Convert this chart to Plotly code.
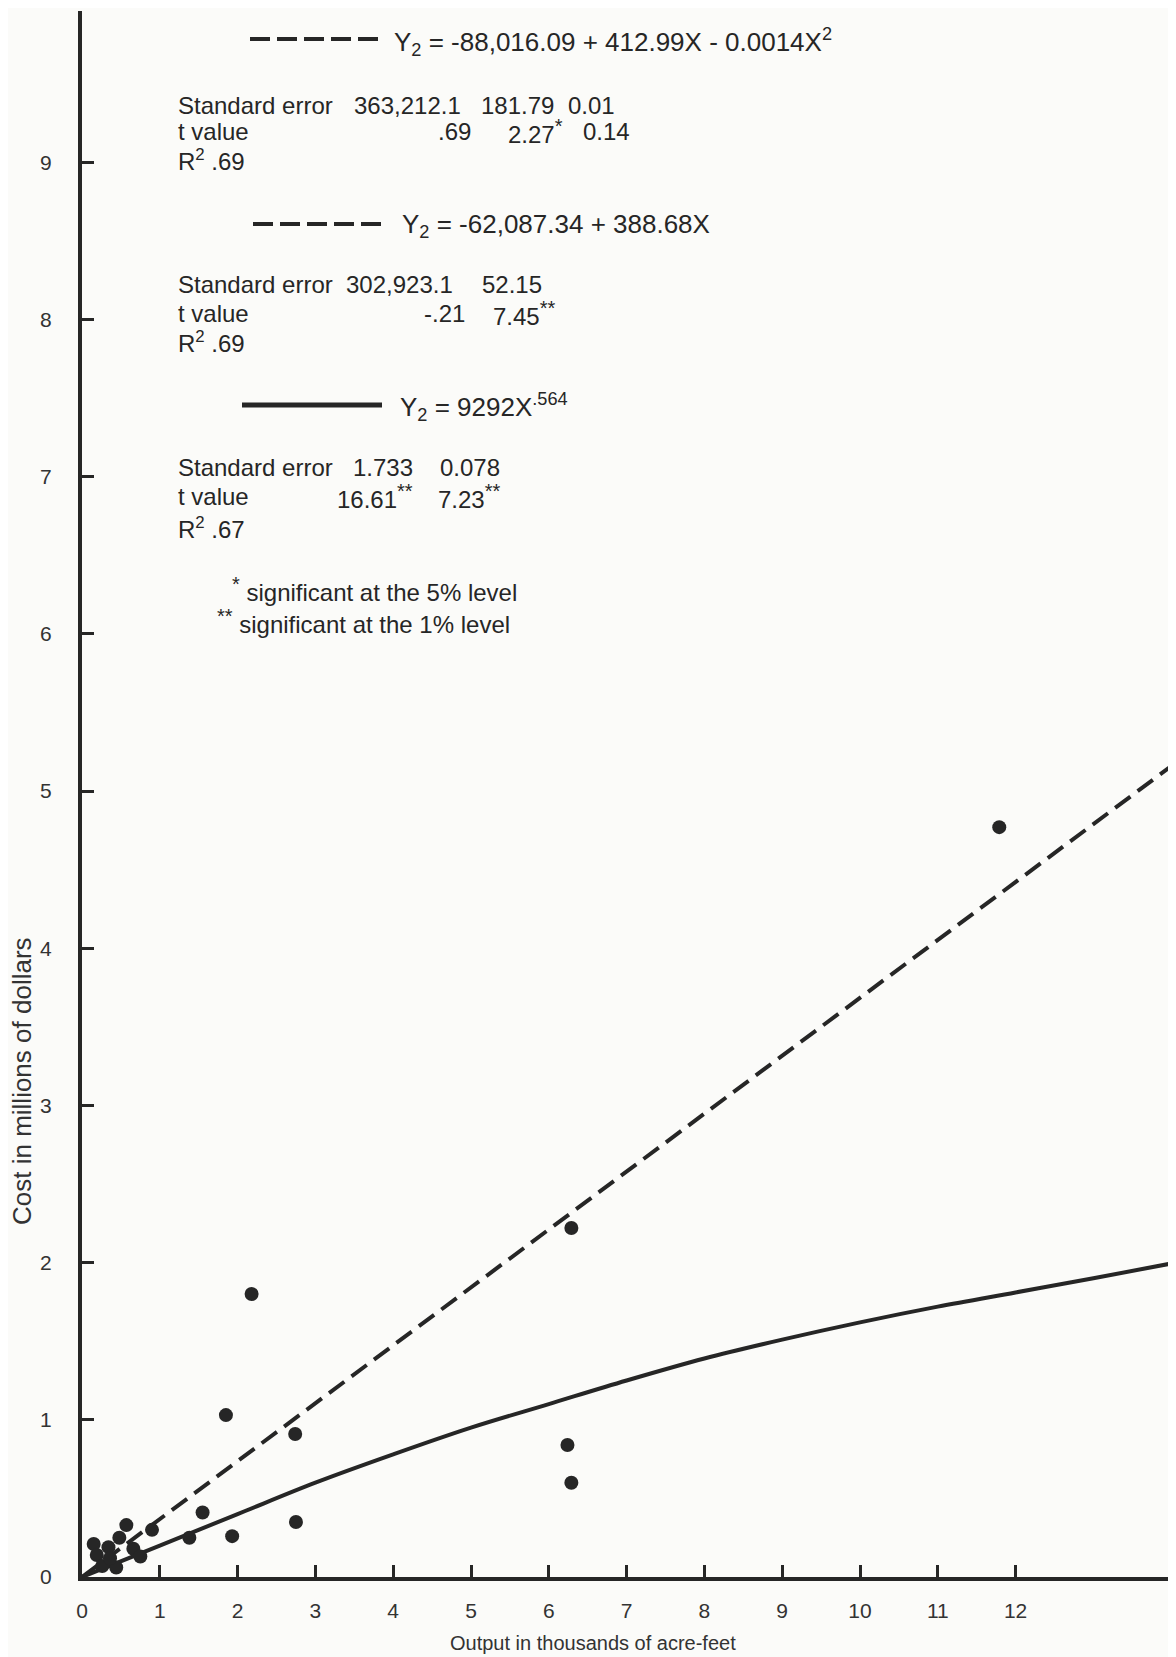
import plotly.graph_objects as go

# ---------------- data ----------------
# observed projects: output (thousands of acre-feet) vs cost (millions of dollars)
obs_x = [11.79, 6.29, 2.18, 1.85, 2.74, 6.24, 6.29, 2.75, 1.55, 1.93, 1.38,
         0.90, 0.57, 0.48, 0.15, 0.34, 0.19, 0.26, 0.44, 0.66, 0.75, 0.36]
obs_y = [4.77, 2.22, 1.80, 1.03, 0.91, 0.84, 0.60, 0.35, 0.41, 0.26, 0.25,
         0.30, 0.33, 0.25, 0.21, 0.19, 0.14, 0.07, 0.06, 0.18, 0.13, 0.12]

# dashed (linear / quadratic) fitted line
lin_x = [0.0, 14.06]
lin_y = [0.0, 5.18]

# solid (power) fitted curve
pow_x = [0.0, 1.0, 2.0, 3.0, 4.0, 5.0, 6.0, 7.0, 8.0, 9.0, 10.0, 11.0, 12.0, 13.0, 14.06]
pow_y = [0.0, 0.20, 0.40, 0.60, 0.78, 0.95, 1.10, 1.25, 1.39, 1.51, 1.62, 1.72, 1.81, 1.90, 2.0]

x_ticks = list(range(0, 13))
y_ticks = list(range(0, 10))

X_TITLE = "Output in thousands of acre-feet"
Y_TITLE = "Cost in millions of dollars"

# ---------------- layout geometry (page pixels) ----------------
PAGE_OFF = 8                    # default body margin of the html page
W, H = 1176 - PAGE_OFF, 1657 - PAGE_OFF
PL, PT, PR, PB = 82, 11, 1176, 1577   # plot area in page pixels
L, T, R = PL - PAGE_OFF, PT - PAGE_OFF, 0
B = H - (PB - PAGE_OFF)
PW, PH = PR - PL, PB - PT
XMAX = PW / 77.8
YMAX = PH / 157.2

INK = "#262626"
BG = "#fbfbf9"
FONT = "Liberation Sans, Arial, Helvetica, sans-serif"


def px(x):
    return (x - PL) / PW


def py(y):
    return (PB - y) / PH


fig = go.Figure()

fig.add_trace(go.Scatter(x=lin_x, y=lin_y, mode="lines",
                         line=dict(color=INK, width=4, dash="19px,9px"),
                         hoverinfo="skip", showlegend=False))
fig.add_trace(go.Scatter(x=pow_x, y=pow_y, mode="lines",
                         line=dict(color=INK, width=4, shape="spline", smoothing=1.0),
                         hoverinfo="skip", showlegend=False))
fig.add_trace(go.Scatter(x=obs_x, y=obs_y, mode="markers",
                         marker=dict(color=INK, size=14, line=dict(width=0)),
                         showlegend=False))

# ---------------- equation block ----------------
TS = 24  # text size
ES = 26  # equation size


def txt(x, y, s, size=TS):
    fig.add_annotation(x=px(x), y=py(y), xref="paper", yref="paper", text=s,
                       showarrow=False, xanchor="left", yanchor="middle",
                       font=dict(family=FONT, size=size, color=INK))


def sample(x0, x1, y, dash, width):
    fig.add_shape(type="line", xref="paper", yref="paper",
                  x0=px(x0), x1=px(x1), y0=py(y), y1=py(y),
                  line=dict(color=INK, width=width, dash=dash))


STAR = '<span style="font-size:20px">*</span>'
STAR2 = '<span style="font-size:20px">**</span>'

# block 1 (quadratic)
sample(250, 378, 39, "20px,7px", 4)
txt(392, 42, "Y<sub>2</sub> = -88,016.09 + 412.99X - 0.0014X<sup>2</sup>", ES)
txt(176, 106, "Standard error")
txt(352, 106, "363,212.1")
txt(479, 106, "181.79")
txt(566, 106, "0.01")
txt(176, 132, "t value")
txt(436, 132, ".69")
txt(506, 132, "2.27<sup>" + STAR + "</sup>")
txt(581, 132, "0.14")
txt(176, 160, "R<sup>2</sup> .69")

# block 2 (linear)
sample(253, 384, 224, "20px,7px", 4)
txt(400, 226, "Y<sub>2</sub> = -62,087.34 + 388.68X", ES)
txt(176, 284, "Standard error")
txt(344, 284, "302,923.1")
txt(480, 284, "52.15")
txt(176, 314, "t value")
txt(422, 314, "-.21")
txt(491, 314, "7.45<sup>" + STAR2 + "</sup>")
txt(176, 342, "R<sup>2</sup> .69")

# block 3 (power)
sample(242, 382, 405, None, 5)
txt(398, 407, "Y<sub>2</sub> = 9292X<sup>.564</sup>", ES)
txt(176, 467, "Standard error")
txt(351, 467, "1.733")
txt(438, 467, "0.078")
txt(176, 497, "t value")
txt(335, 497, "16.61<sup>" + STAR2 + "</sup>")
txt(436, 497, "7.23<sup>" + STAR2 + "</sup>")
txt(176, 528, "R<sup>2</sup> .67")

# footnotes
txt(230, 589, "<sup>" + STAR + "</sup> significant at the 5% level")
txt(215, 621, "<sup>" + STAR2 + "</sup> significant at the 1% level")

# axis titles
fig.add_annotation(x=px(593), y=py(1643), xref="paper", yref="paper", text=X_TITLE,
                   showarrow=False, xanchor="center", yanchor="middle",
                   font=dict(family=FONT, size=20, color="#333"))
fig.add_annotation(x=px(22), y=py(1081), xref="paper", yref="paper", text=Y_TITLE,
                   showarrow=False, xanchor="center", yanchor="middle", textangle=-90,
                   font=dict(family=FONT, size=26, color="#333"))

fig.update_layout(
    width=W, height=H,
    margin=dict(l=L, r=R, t=T, b=B, pad=0),
    paper_bgcolor=BG, plot_bgcolor=BG,
    showlegend=False,
    xaxis=dict(range=[0, XMAX], tickmode="array", tickvals=x_ticks,
               ticktext=[str(v) for v in x_ticks],
               showgrid=False, zeroline=False, showline=True, linecolor=INK, linewidth=4,
               ticks="inside", ticklen=12, tickwidth=3, tickcolor=INK,
               ticklabelstandoff=12,
               tickfont=dict(family=FONT, size=21, color="#333")),
    yaxis=dict(range=[0, YMAX], tickmode="array", tickvals=y_ticks,
               ticktext=[str(v) for v in y_ticks],
               showgrid=False, zeroline=False, showline=True, linecolor=INK, linewidth=4,
               ticks="inside", ticklen=12, tickwidth=3, tickcolor=INK,
               ticklabelstandoff=22,
               tickfont=dict(family=FONT, size=21, color="#333")),
)

fig.write_html("out.html")
